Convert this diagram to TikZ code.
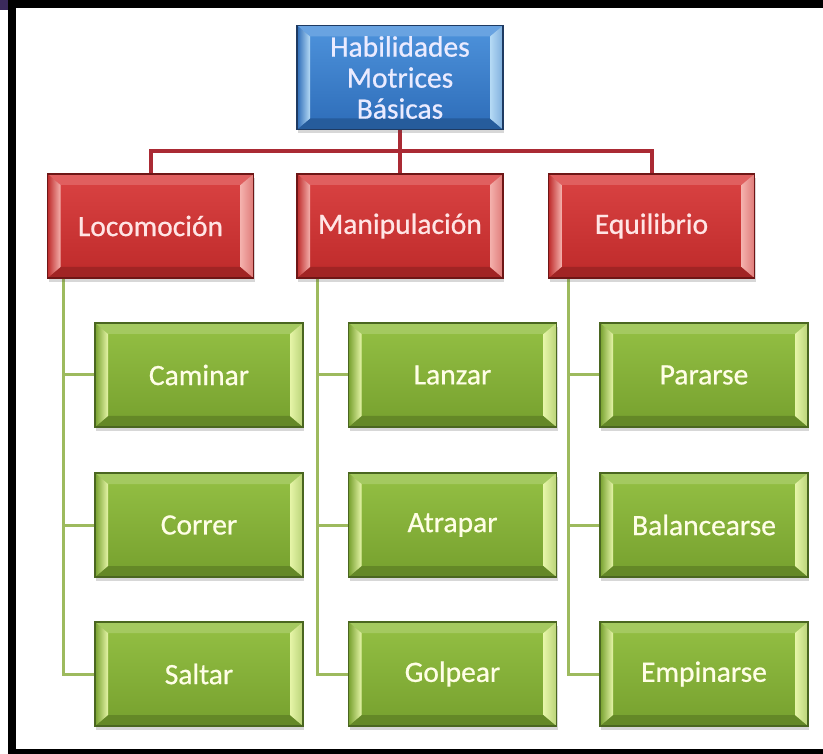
\documentclass[tikz,border=0pt]{standalone}
\usepackage{fontspec}
\setmainfont{Carlito}[FakeBold=0.7]
\usetikzlibrary{calc,shadows,backgrounds}
\definecolor{bluetop}{HTML}{4E93DC}
\definecolor{bluebot}{HTML}{2D6CB8}
\definecolor{blueedge}{HTML}{1E3A62}
\definecolor{bluelight}{HTML}{B5DAF5}
\definecolor{redtop}{HTML}{DA4343}
\definecolor{redbot}{HTML}{BE2A2A}
\definecolor{rededge}{HTML}{6E1616}
\definecolor{redlight}{HTML}{F4B0AC}
\definecolor{greentop}{HTML}{94C044}
\definecolor{greenbot}{HTML}{76A02E}
\definecolor{greenedge}{HTML}{4A6620}
\definecolor{greenlight}{HTML}{E6F5A8}
\definecolor{redline}{HTML}{AA2A34}
\definecolor{greenline}{HTML}{9DBA5E}
\definecolor{cornerpurple}{HTML}{3B2A5C}
\tikzset{
  bevbox/.style n args={5}{
    rectangle, minimum width=206pt, minimum height=104pt, inner sep=0pt,
    top color=#1, bottom color=#2, draw=#3, line width=1.2pt,
    text=#5, font=\fontsize{29.5}{31}\selectfont, align=center,
    drop shadow={shadow xshift=1pt, shadow yshift=-4pt, opacity=0.22, fill=black!70},
    path picture={
      \coordinate (pa) at (path picture bounding box.north west);
      \coordinate (pb) at (path picture bounding box.south east);
      \fill[#1!85!white] (pa) -- (pa-|pb) -- ($(pa-|pb)+(-13pt,-11pt)$) -- ($(pa)+(13pt,-11pt)$) -- cycle;
      \fill[#2!85!black] (pa|-pb) -- (pb) -- ($(pb)+(-13pt,11pt)$) -- ($(pa|-pb)+(13pt,11pt)$) -- cycle;
      \shade[left color=#2, right color=#4] (pa) -- ($(pa)+(13pt,-11pt)$) -- ($(pa|-pb)+(13pt,11pt)$) -- (pa|-pb) -- cycle;
      \shade[left color=#4, right color=#4!60!#2] (pa-|pb) -- (pb) -- ($(pb)+(-13pt,11pt)$) -- ($(pa-|pb)+(-13pt,-11pt)$) -- cycle;
    }
  },
  bluebox/.style={bevbox={bluetop}{bluebot}{blueedge}{bluelight}{white!92!blue}},
  redbox/.style={bevbox={redtop}{redbot}{rededge}{redlight}{white!90!red}},
  greenbox/.style={bevbox={greentop}{greenbot}{greenedge}{greenlight}{white!90!yellow}, minimum width=208pt},
  redconn/.style={draw=redline, line width=4pt},
  greenconn/.style={draw=greenline, line width=3pt}
}
\begin{document}
\begin{tikzpicture}[x=1pt,y=-1pt]
  % top
  \node[bluebox] (hab) at (400,77.5) {Habilidades\\Motrices\\Básicas};
  % second level
  \node[redbox] (loc) at (150.5,226) {Locomoción};
  \node[redbox] (man) at (400,226) {Manipulación};
  \node[redbox] (equ) at (651.5,226) {Equilibrio};

  % third level
  \node[greenbox] (cam) at (199,375) {Caminar};
  \node[greenbox] (cor) at (199,525) {Correr};
  \node[greenbox] (sal) at (199,674) {Saltar};
  \node[greenbox] (lan) at (452.5,375) {Lanzar};
  \node[greenbox] (atr) at (452.5,525) {Atrapar};
  \node[greenbox] (gol) at (452.5,674) {Golpear};
  \node[greenbox] (par) at (704,375) {Pararse};
  \node[greenbox] (bal) at (704,525) {Balancearse};
  \node[greenbox] (emp) at (704,674) {Empinarse};

  % trunk tops of the green connectors
  \coordinate (t1) at (63,278);
  \coordinate (t2) at (317,278);
  \coordinate (t3) at (568,278);

  \begin{scope}[on background layer]
    \fill[white] (0,0) rectangle (823,754);
    % frame
    \fill[black] (8,0) rectangle (823,8);
    \fill[black] (8,0) rectangle (16,754);
    \fill[black] (8,749) rectangle (823,754);
    \fill[cornerpurple] (0,0) rectangle (8,10);
    % red connectors
    \draw[redconn] (hab.south) -- (man.north);
    \draw[redconn] (loc.north) -- ++(0,-22) -| (equ.north);
    % green connectors
    \draw[greenconn] (t1) |- (sal.west);
    \draw[greenconn] (t1 |- cam.west) -- (cam.west);
    \draw[greenconn] (t1 |- cor.west) -- (cor.west);
    \draw[greenconn] (t2) |- (gol.west);
    \draw[greenconn] (t2 |- lan.west) -- (lan.west);
    \draw[greenconn] (t2 |- atr.west) -- (atr.west);
    \draw[greenconn] (t3) |- (emp.west);
    \draw[greenconn] (t3 |- par.west) -- (par.west);
    \draw[greenconn] (t3 |- bal.west) -- (bal.west);
  \end{scope}
  \useasboundingbox (0,0) rectangle (823,754);
\end{tikzpicture}
\end{document}
